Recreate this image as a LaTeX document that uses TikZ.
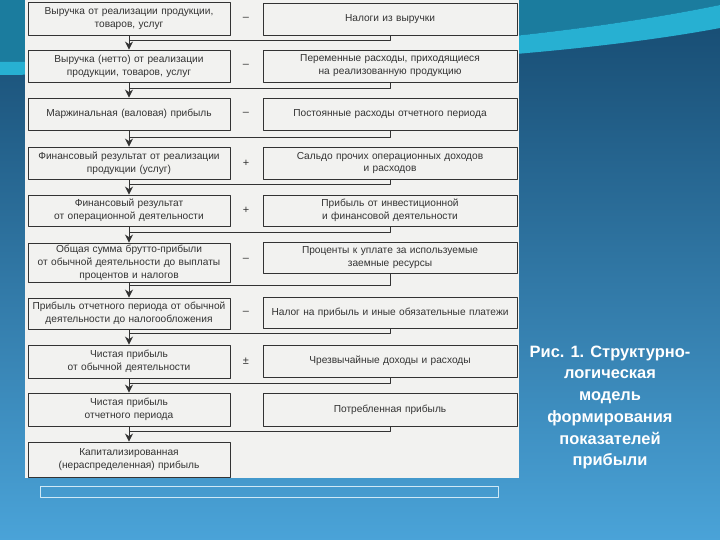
\documentclass[tikz,border=0pt]{standalone}
\usepackage{fontspec}
\setmainfont{Liberation Sans}
\usetikzlibrary{arrows.meta}
\definecolor{panel}{HTML}{F2F2F0}
\definecolor{ink}{HTML}{333333}
\definecolor{bgtop}{HTML}{164A70}
\definecolor{bgbot}{HTML}{4AA3D8}
\definecolor{wavetop}{HTML}{1B7C9E}
\definecolor{swoosh}{HTML}{27B0D2}
\definecolor{frameline}{HTML}{CFE9F6}
\tikzset{
  lbox/.style={draw=ink, fill=panel, line width=0.9bp, text=ink, align=center,
    text width=198bp, inner xsep=2bp, inner ysep=1bp, minimum width=202bp,
    font=\fontsize{10.2}{13}\selectfont},
  rbox/.style={lbox, text width=250bp, minimum width=254bp},
  sign/.style={text=ink, font=\fontsize{11}{12}\selectfont},
  link/.style={draw=ink, line width=0.9bp},
  caption/.style={text=white, align=center, font=\bfseries\fontsize{16.5}{21.8}\selectfont},
}
\begin{document}
\begin{tikzpicture}[x=1bp, y=1bp, line join=round, >={Stealth[length=8bp,width=8bp]}]
\useasboundingbox (0,0) rectangle (720,-540);
% background
\fill[top color=bgtop, bottom color=bgbot] (0,0) rectangle (720,-540);
\fill[wavetop] (0,0) -- (0,-62) .. controls (300,-60) and (550,-40) .. (720,-5) -- (720,0) -- cycle;
\fill[swoosh] (0,-62) .. controls (300,-60) and (550,-40) .. (720,-5) -- (720,-28)
  .. controls (560,-58) and (300,-72) .. (0,-75) -- cycle;
\fill[panel] (25,0) rectangle (519,-478);
\draw[frameline, line width=1bp] (40,-486) rectangle (498,-497);

% left column
\node[lbox, minimum height=33bp] (l1) at (129,-18.5) {Выручка от реализации продукции,\\товаров, услуг};
\node[lbox, minimum height=32bp] (l2) at (129,-66) {Выручка (нетто) от реализации\\продукции, товаров, услуг};
\node[lbox, minimum height=32bp] (l3) at (129,-114) {Маржинальная (валовая) прибыль};
\node[lbox, minimum height=32bp] (l4) at (129,-163) {Финансовый результат от реализации\\продукции (услуг)};
\node[lbox, minimum height=31bp] (l5) at (129,-210.5) {Финансовый результат\\от операционной деятельности};
\node[lbox, minimum height=39bp] (l6) at (129,-262.5) {Общая сумма брутто-прибыли\\от обычной деятельности до выплаты\\процентов и налогов};
\node[lbox, minimum height=31bp] (l7) at (129,-313.5) {Прибыль отчетного периода от обычной\\деятельности до налогообложения};
\node[lbox, minimum height=33bp] (l8) at (129,-361.5) {Чистая прибыль\\от обычной деятельности};
\node[lbox, minimum height=33bp] (l9) at (129,-409.5) {Чистая прибыль\\отчетного периода};
\node[lbox, minimum height=35bp] (l10) at (129,-459.5) {Капитализированная\\(нераспределенная) прибыль};

% right column
\node[rbox, minimum height=32bp] (r1) at (390,-19) {Налоги из выручки};
\node[rbox, minimum height=32bp] (r2) at (390,-66) {Переменные расходы, приходящиеся\\на реализованную продукцию};
\node[rbox, minimum height=32bp] (r3) at (390,-114) {Постоянные расходы отчетного периода};
\node[rbox, minimum height=32bp] (r4) at (390,-163) {Сальдо прочих операционных доходов\\и расходов};
\node[rbox, minimum height=31bp] (r5) at (390,-210.5) {Прибыль от инвестиционной\\и финансовой деятельности};
\node[rbox, minimum height=31bp] (r6) at (390,-257.5) {Проценты к уплате за используемые\\заемные ресурсы};
\node[rbox, minimum height=31bp] (r7) at (390,-312.5) {Налог на прибыль и иные обязательные платежи};
\node[rbox, minimum height=32bp] (r8) at (390,-361) {Чрезвычайные доходы и расходы};
\node[rbox, minimum height=33bp] (r9) at (390,-409.5) {Потребленная прибыль};

% signs
\node[sign] (s1) at (246,-19) {–};
\node[sign] (s2) at (246,-66) {–};
\node[sign] (s3) at (246,-114) {–};
\node[sign] (s4) at (246,-163) {+};
\node[sign] (s5) at (246,-210.5) {+};
\node[sign] (s6) at (246,-260) {–};
\node[sign] (s7) at (246,-313) {–};
\node[sign] (s8) at (246,-361) {±};

% junctions
\path
(129,-40) coordinate (j1)
(129,-88) coordinate (j2)
(129,-137) coordinate (j3)
(129,-184) coordinate (j4)
(129,-232) coordinate (j5)
(129,-285) coordinate (j6)
(129,-333) coordinate (j7)
(129,-383) coordinate (j8)
(129,-431) coordinate (j9)
;
\draw[link,->] (l1) -- (l2);
\draw[link,->] (l2) -- (l3);
\draw[link,->] (l3) -- (l4);
\draw[link,->] (l4) -- (l5);
\draw[link,->] (l5) -- (l6);
\draw[link,->] (l6) -- (l7);
\draw[link,->] (l7) -- (l8);
\draw[link,->] (l8) -- (l9);
\draw[link,->] (l9) -- (l10);
\draw[link] (r1.south) |- (j1);
\draw[link] (r2.south) |- (j2);
\draw[link] (r3.south) |- (j3);
\draw[link] (r4.south) |- (j4);
\draw[link] (r5.south) |- (j5);
\draw[link] (r6.south) |- (j6);
\draw[link] (r7.south) |- (j7);
\draw[link] (r8.south) |- (j8);
\draw[link] (r9.south) |- (j9);

% caption
\node[caption] (cap) at (610,-407.5) {Рис. 1. Структурно-\\логическая\\модель\\формирования\\показателей\\прибыли};
\end{tikzpicture}
\end{document}
